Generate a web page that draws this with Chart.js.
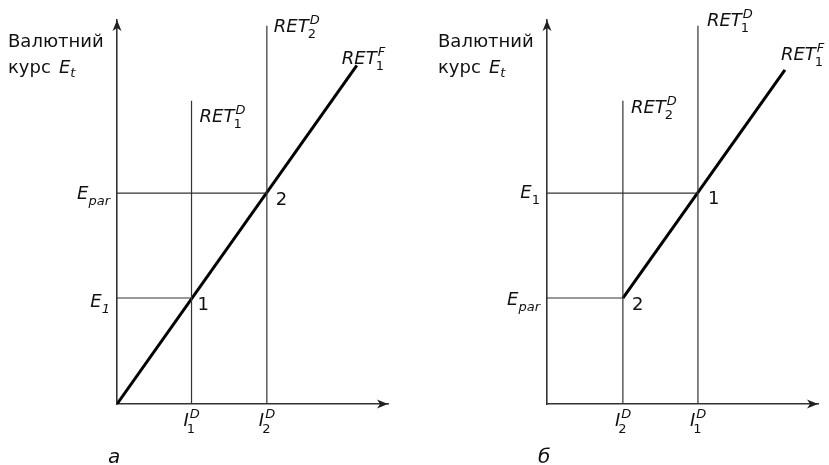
<!DOCTYPE html>
<html><head><meta charset="utf-8">
<script src="https://cdn.jsdelivr.net/npm/chart.js@4.4.0/dist/chart.umd.min.js"></script>
<style>
html,body{margin:0;padding:0;background:#fff;}
#wrap{position:relative;width:829px;height:465px;overflow:hidden;background:#fff;}
#a{position:absolute;left:0;top:0;}
#b{position:absolute;left:415px;top:0;}
</style></head><body>
<div id="wrap"><canvas id="a" width="415" height="465"></canvas><canvas id="b" width="414" height="465"></canvas></div>
<script>
// ---- panel а ----
const aIncomeX   = [27.5, 55.3];   // I1^D, I2^D
const aIncomeSub = ['1', '2'];
const aRetDTop   = [79, 98.5];     // top of RET1^D, RET2^D
const aRetDSub   = ['1', '2'];
const aRateY     = [27.6, 54.9];   // E1, Epar
const aRateSub   = ['1', 'par'];
const aPointLbl  = ['1', '2'];
const aRetFx     = [0, 88.5];
const aRetFy     = [0, 88.2];
// ---- panel б ----
const bIncomeX   = [28, 55.7];     // I2^D, I1^D
const bIncomeSub = ['2', '1'];
const bRetDTop   = [79, 98.5];     // top of RET2^D, RET1^D
const bRetDSub   = ['2', '1'];
const bRateY     = [27.6, 54.9];   // Epar, E1
const bRateSub   = ['par', '1'];
const bPointLbl  = ['2', '1'];
const bRetFx     = [28, 87.8];
const bRetFy     = [27.6, 87.0];

const FONT = 'DejaVu Sans';
const THIN = '#333';
const BASE = 18, SMALL = 13;

function buildDatasets(ix, top, ry, fx, fy) {
  const ds = [];
  ix.forEach((x, i) => ds.push({data: [{x: x, y: 0}, {x: x, y: top[i]}], borderColor: THIN, borderWidth: 1.2}));
  ry.forEach((y, i) => ds.push({data: [{x: 0, y: y}, {x: ix[i], y: y}], borderColor: THIN, borderWidth: 1.2}));
  ds.push({data: fx.map((x, i) => ({x: x, y: fy[i]})), borderColor: '#000', borderWidth: 3});
  ds.forEach(d => { d.showLine = true; d.pointRadius = 0; d.fill = false; });
  return ds;
}

function rich(ctx, x, y, base, sup, sub, opt) {
  opt = opt || {};
  ctx.fillStyle = '#111';
  ctx.textBaseline = 'alphabetic';
  ctx.textAlign = 'left';
  ctx.font = 'italic ' + BASE + 'px "' + FONT + '"';
  ctx.fillText(base, x, y);
  const w = ctx.measureText(base).width;
  if (sup) {
    ctx.font = 'italic ' + SMALL + 'px "' + FONT + '"';
    ctx.fillText(sup, x + w + 1, y - 8);
  }
  if (sub) {
    ctx.font = (opt.subItalic ? 'italic ' : '') + SMALL + 'px "' + FONT + '"';
    ctx.fillText(sub, x + w + (opt.subDx !== undefined ? opt.subDx : 0), y + (opt.subDy || 6));
  }
}
function richWidth(ctx, base, sub, opt) {
  opt = opt || {};
  ctx.font = 'italic ' + BASE + 'px "' + FONT + '"';
  const w = ctx.measureText(base).width;
  ctx.font = (opt.subItalic ? 'italic ' : '') + SMALL + 'px "' + FONT + '"';
  return w + ctx.measureText(sub).width;
}

function arrowUp(ctx, x, y) {
  ctx.beginPath(); ctx.moveTo(x, y); ctx.lineTo(x - 4.5, y + 11); ctx.lineTo(x, y + 8); ctx.lineTo(x + 4.5, y + 11); ctx.closePath(); ctx.fill();
}
function arrowRight(ctx, x, y) {
  ctx.beginPath(); ctx.moveTo(x, y); ctx.lineTo(x - 11, y - 4.5); ctx.lineTo(x - 8, y); ctx.lineTo(x - 11, y + 4.5); ctx.closePath(); ctx.fill();
}

function makeChart(id, pad, cfg) {
  const deco = {
    id: 'deco',
    afterDraw(chart) {
      const ctx = chart.ctx, ca = chart.chartArea;
      const sx = chart.scales.x, sy = chart.scales.y;
      const px = v => sx.getPixelForValue(v), py = v => sy.getPixelForValue(v);
      ctx.save();
      ctx.fillStyle = '#222';
      arrowUp(ctx, ca.left, ca.top);
      arrowRight(ctx, ca.right, ca.bottom);
      // axis title
      ctx.fillStyle = '#111';
      ctx.font = '18px "' + FONT + '"';
      ctx.textAlign = 'left';
      ctx.fillText('Валютний', ca.left - 109, 47);
      ctx.fillText('курс', ca.left - 109, 73);
      rich(ctx, ca.left - 58, 73, 'E', null, 't', {subItalic: true, subDy: 4, subDx: 0});
      // RET^D labels
      cfg.ix.forEach((x, i) => {
        const o = cfg.retDOff[i];
        rich(ctx, px(x) + o[0], py(cfg.top[i]) + o[1], 'RET', 'D', cfg.retDSub[i], {subDx: -1});
      });
      // RET^F label
      const n = cfg.fx.length - 1;
      rich(ctx, px(cfg.fx[n]) + cfg.retFOff[0], py(cfg.fy[n]) + cfg.retFOff[1], 'RET', 'F', '1', {subDx: -1});
      // rate labels
      cfg.ry.forEach((y, i) => {
        const sub = cfg.rateSub[i];
        const it = cfg.rateItalic[i];
        const w = richWidth(ctx, 'E', sub, {subItalic: it});
        rich(ctx, ca.left - 7 - w, py(y) + cfg.rateOff[i], 'E', null, sub, {subItalic: it, subDy: 6});
      });
      // point labels
      cfg.ix.forEach((x, i) => {
        const o = cfg.ptOff[i];
        ctx.fillStyle = '#111';
        ctx.font = BASE + 'px "' + FONT + '"';
        ctx.fillText(cfg.pts[i], px(x) + o[0], py(cfg.ry[i]) + o[1]);
      });
      // income labels
      cfg.ix.forEach((x, i) => {
        rich(ctx, px(x) - 8, py(0) + 22, 'I', 'D', cfg.incSub[i], {subDx: -2, subDy: 7});
      });
      // panel letter
      ctx.fillStyle = '#111';
      ctx.font = 'italic 20px "' + FONT + '"';
      ctx.fillText(cfg.letter, ca.left - 9, 463);
      ctx.restore();
    }
  };
  return new Chart(document.getElementById(id), {
    type: 'scatter',
    data: {datasets: buildDatasets(cfg.ix, cfg.top, cfg.ry, cfg.fx, cfg.fy)},
    options: {
      responsive: false, animation: false, devicePixelRatio: 1,
      layout: {padding: pad},
      plugins: {legend: {display: false}, tooltip: {enabled: false}},
      scales: {
        x: {type: 'linear', min: 0, max: 100, ticks: {display: false}, grid: {display: false, drawTicks: false}, border: {display: true, color: '#333', width: 1.6}},
        y: {type: 'linear', min: 0, max: 100, ticks: {display: false}, grid: {display: false, drawTicks: false}, border: {display: true, color: '#333', width: 1.6}}
      }
    },
    plugins: [deco]
  });
}

makeChart('a', {left: 117, right: 27, top: 20, bottom: 61}, {
  ix: aIncomeX, top: aRetDTop, ry: aRateY, fx: aRetFx, fy: aRetFy,
  incSub: aIncomeSub, retDSub: aRetDSub, rateSub: aRateSub, pts: aPointLbl,
  retDOff: [[8, 21], [7, 6]], retFOff: [-15, -1], rateOff: [9, 6], rateItalic: [true, true],
  ptOff: [[6, 12], [9, 12]], letter: 'а'
});
makeChart('b', {left: 132, right: 11, top: 20, bottom: 61}, {
  ix: bIncomeX, top: bRetDTop, ry: bRateY, fx: bRetFx, fy: bRetFy,
  incSub: bIncomeSub, retDSub: bRetDSub, rateSub: bRateSub, pts: bPointLbl,
  retDOff: [[8, 12], [9, 0]], retFOff: [-4, -10], rateOff: [7, 5], rateItalic: [true, false],
  ptOff: [[9, 12], [10, 11]], letter: 'б'
});
</script>
</body></html>
